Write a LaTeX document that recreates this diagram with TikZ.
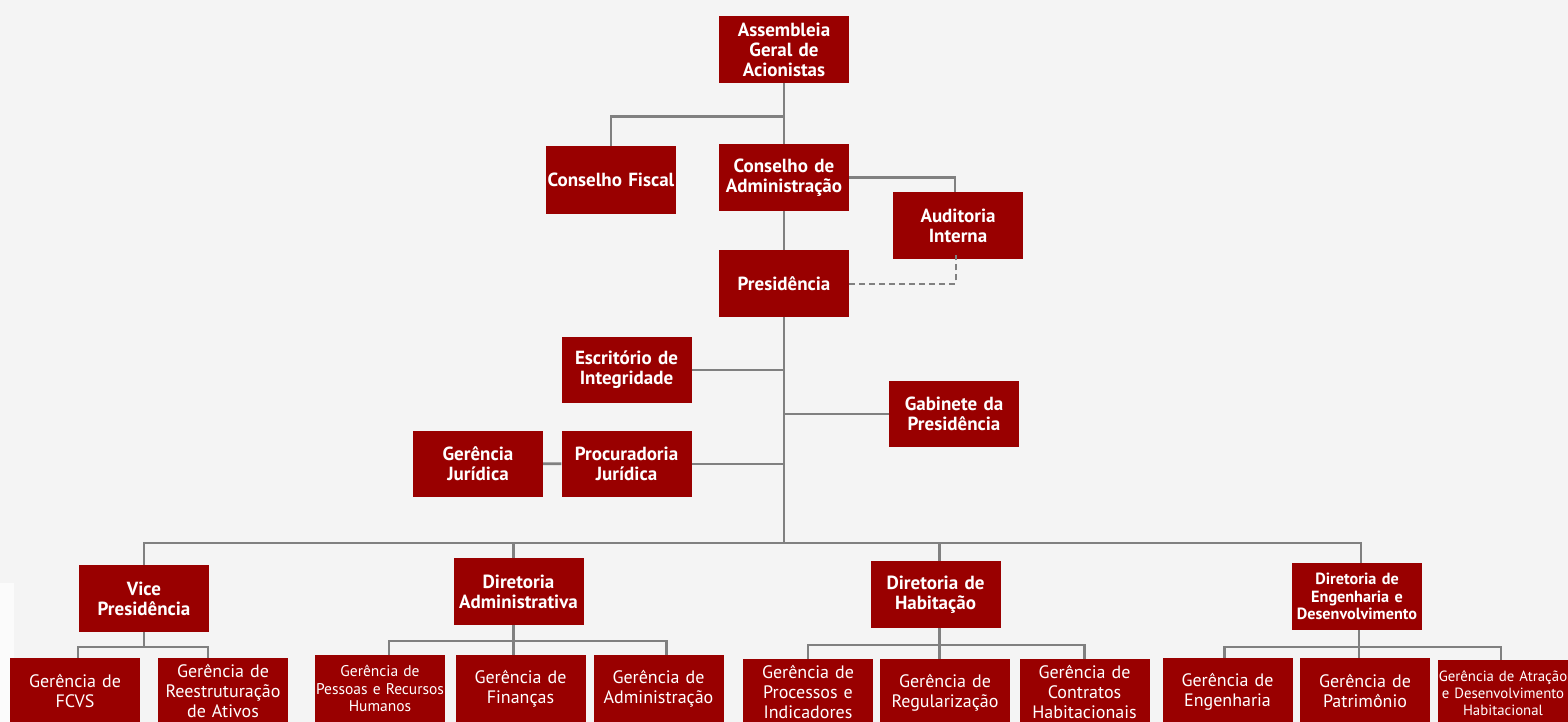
\documentclass[tikz,border=0pt]{standalone}
\usepackage{fontspec}
\setmainfont{PT Sans}
\definecolor{orgred}{RGB}{153,0,0}
\definecolor{orgline}{RGB}{128,128,128}
\definecolor{orgbg}{RGB}{244,244,244}
\tikzset{
    unit/.style={fill=orgred, text=white, text width=130pt, minimum height=67pt,
        align=center, inner sep=0pt, font=\bfseries\fontsize{19}{20}\selectfont},
    gerencia/.style={unit, font=\fontsize{18}{20}\selectfont},
    link/.style={draw=orgline, line width=2.6pt},
    dashlink/.style={link, line width=2pt, dash pattern=on 6pt off 4pt}
}
\begin{document}
\begin{tikzpicture}[x=1pt, y=-1pt]
            \clip (0,0) rectangle (1568,722);
            \fill[orgbg] (0,0) rectangle (1568,722);
            \fill[white!60!orgbg] (0,583) rectangle (14,722);
            % top
            \node[unit] (asm) at (784,49.5) {Assembleia\\Geral de\\Acionistas};
            \node[unit] (fiscal) at (611,180) {Conselho Fiscal};
            \node[unit] (cadm) at (784,177.5) {Conselho de\\Administração};
            \node[unit] (audit) at (958,225.5) {Auditoria\\Interna};
            \node[unit] (pres) at (784,283.5) {Presidência};
            % presidencia
            \node[unit, minimum height=66pt] (escr) at (626.5,370) {Escritório de\\Integridade};
            \node[unit, minimum height=66pt] (gab) at (954,414) {Gabinete da\\Presidência};
            \node[unit, minimum height=66pt] (gjur) at (478,463.5) {Gerência\\Jurídica};
            \node[unit, minimum height=66pt] (proc) at (626.5,464) {Procuradoria\\Jurídica};
            % diretorias
            \node[unit] (vp) at (144,598.5) {Vice\\Presidência};
            \node[unit] (dadm) at (518.5,591.5) {Diretoria\\Administrativa};
            \node[unit] (dhab) at (935.5,594.5) {Diretoria de\\Habitação};
            \node[unit, font=\bfseries\fontsize{16.2}{17.5}\selectfont] (deng) at (1357,596.5)
                {Diretoria de\\Engenharia e\\Desenvolvimento};
            % gerencias
            \foreach \name/\x/\y/\label in {fcvs/75/691.5/{Gerência de\\FCVS},
                reest/223/691.5/{Gerência de\\Reestruturação\\de Ativos},
                financas/520.5/688.5/{Gerência de\\Finanças},
                admin/658.5/688.5/{Gerência de\\Administração},
                processos/808/692.5/{Gerência de\\Processos e\\Indicadores},
                regular/945/692.5/{Gerência de\\Regularização},
                contratos/1084.5/692.5/{Gerência de\\Contratos\\Habitacionais},
                engenharia/1227.5/691.5/{Gerência de\\Engenharia},
                patrimonio/1365/691.5/{Gerência de\\Patrimônio}}{
                \node[gerencia] (\name) at (\x,\y) {\label};
            }
            \node[gerencia, font=\fontsize{15.5}{17.5}\selectfont] (pessoas) at (380,688.5)
                {Gerência de\\Pessoas e Recursos\\Humanos};
            \node[gerencia, font=\fontsize{14.8}{17}\selectfont] (atracao) at (1503,693.5)
                {Gerência de Atração\\e Desenvolvimento\\Habitacional};
            % connectors top
            \draw[link] (asm.south) -- (cadm.north);
            \draw[link] (fiscal.north) -- ++(0,-30) -| (asm.south);
            \draw[link] (cadm.east) -| ([xshift=-3pt]audit.north);
            \draw[link] (cadm.south) -- (pres.north);
            \draw[dashlink] (pres.east) -| ([xshift=-2pt,yshift=4pt]audit.south);
            % connectors presidencia
            \coordinate (bus) at (784,543);
            \draw[link] (pres.south) -- (bus);
            \draw[link] (escr.east) -- (escr.east -| bus);
            \draw[link] (gab.west) -- (gab.west -| bus);
            \draw[link] (proc.east) -- (proc.east -| bus);
            \draw[link] (gjur) -- (proc);
            \draw[link] (vp.north) |- ([xshift=4pt]deng.north |- bus) -- ([xshift=4pt]deng.north);
            \draw[link] ([xshift=-5pt]dadm.north) -- ([xshift=-5pt]dadm.north |- bus);
            \draw[link] ([xshift=4pt]dhab.north) -- ([xshift=4pt]dhab.north |- bus);
            % connectors gerencias
            \draw[link] (vp.south) -- ++(0,15);
            \draw[link] ([xshift=3pt]fcvs.north) -- ++(0,-11) -| ([xshift=-15pt]reest.north);
            \draw[link] ([xshift=-5pt]dadm.south) -- ([xshift=-5pt]dadm.south |- financas.north);
            \draw[link] ([xshift=9pt]pessoas.north) -- ++(0,-14) -| ([xshift=8pt]admin.north);
            \draw[link] ([xshift=4pt]dhab.south) -- ([xshift=4pt]dhab.south |- regular.north);
            \draw[link] (processos.north) -- ++(0,-14) -| (contratos.north);
            \draw[link] ([xshift=2pt]deng.south) -- ([xshift=2pt]deng.south |- patrimonio.north);
            \draw[link] ([xshift=-3pt]engenharia.north) -- ++(0,-11) -| ([xshift=-2pt]atracao.north);
\end{tikzpicture}
\end{document}
